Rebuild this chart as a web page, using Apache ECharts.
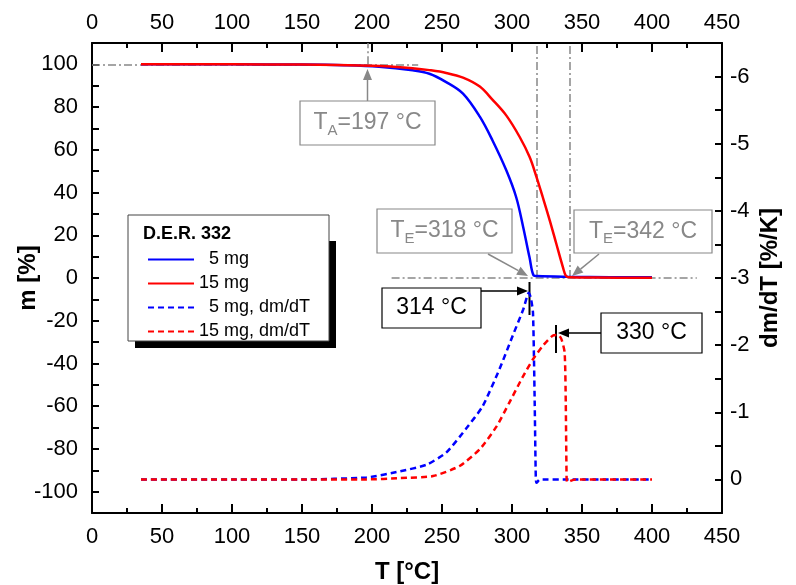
<!DOCTYPE html>
<html>
<head>
<meta charset="utf-8">
<script src="https://cdn.jsdelivr.net/npm/echarts@6/dist/echarts.min.js"></script>
<style>
html, body { margin: 0; padding: 0; background: #fff; }
#main { width: 796px; height: 585px; }
</style>
</head>
<body>
<div id="main"></div>
<script>
var FONT = "'Liberation Sans', Arial, sans-serif";

// mass curves, m [%]
var t5 = [35, 100, 150, 180, 205, 229, 241, 253, 265, 277, 286, 296, 303, 308, 312.5, 315.5, 318, 340, 370, 400];
var m5 = [100, 100, 99.9, 99.6, 98.9, 97.2, 95.6, 91.7, 86.3, 75.5, 64.5, 50.3, 37.8, 23.8, 9.7, 1.2, 0.9, 0.6, 0.4, 0.3];
var t15 = [35, 100, 150, 200, 215, 229, 241, 253, 265, 277, 286, 296, 305.5, 312.6, 317.4, 322, 327, 331.7, 336.4, 338.5, 341, 360, 400];
var m15 = [100, 100, 99.9, 99.4, 98.9, 98.2, 97.3, 96, 93.8, 89.6, 83.5, 76, 66, 56.6, 47.5, 37.8, 26.9, 15.9, 5, 1.0, 0.3, 0.2, 0.1];

// derivative curves, dm/dT [%/K]
var t5d = [35, 100, 150, 196, 220, 239, 253, 267, 279, 291, 300.5, 308, 312, 313.5, 315, 316.2, 317, 317.5, 320, 340, 400];
var d5 = [0, 0, 0, -0.03, -0.12, -0.22, -0.40, -0.75, -1.09, -1.64, -2.14, -2.53, -2.78, -2.7, -2.48, -1.15, -0.02, 0.05, 0, 0, 0];
var t15d = [35, 100, 150, 196, 220, 243.6, 262.6, 277, 289, 298, 308, 315, 322, 329, 333, 335.3, 337.6, 338.4, 339, 339.5, 345, 400];
var d15 = [0, 0, 0, 0, -0.02, -0.05, -0.2, -0.45, -0.79, -1.14, -1.54, -1.79, -1.99, -2.14, -2.15, -2.09, -1.89, -1.15, -0.02, 0.04, 0, 0];

var names = ['5 mg', '15 mg', '5 mg, dm/dT', '15 mg, dm/dT'];

// reference temperatures
var tA = 197, tE5 = 317.5, tE15 = 341;

function zip(a, b) {
  return a.map(function (v, i) { return [v, b[i]]; });
}

var GRAY = '#888';
var dashDot = { color: GRAY, width: 1.5, type: [8, 3, 2, 3] };
var nameStyle = { fontSize: 24, fontWeight: 'bold', color: '#000', fontFamily: FONT };

function xAxisCfg(pos) {
  return {
    type: 'value', position: pos, min: 0, max: 450, interval: 50,
    axisLine: { onZero: false, lineStyle: { color: '#000', width: 2 } },
    axisTick: { inside: true, length: 9, lineStyle: { color: '#000', width: 2 } },
    minorTick: { show: true, splitNumber: 2, length: 5, lineStyle: { color: '#000', width: 2 } },
    splitLine: { show: false },
    axisLabel: { color: '#000', fontSize: 22, fontFamily: FONT, margin: pos === 'bottom' ? 13 : 9 }
  };
}

function arrow(x1, y1, x2, y2, color, w) {
  var ang = Math.atan2(y2 - y1, x2 - x1);
  var L = 11, H = 4.5;
  var bx = x2 - L * Math.cos(ang), by = y2 - L * Math.sin(ang);
  var px = -Math.sin(ang) * H, py = Math.cos(ang) * H;
  return [
    { type: 'line', shape: { x1: x1, y1: y1, x2: bx, y2: by }, style: { stroke: color, lineWidth: w } },
    { type: 'polygon', shape: { points: [[x2, y2], [bx + px, by + py], [bx - px, by - py]] }, style: { fill: color } }
  ];
}

function box(x, y, w, h, color, rich) {
  return [
    { type: 'rect', shape: { x: x, y: y, width: w, height: h }, style: { fill: '#fff', stroke: color, lineWidth: 1.2 } },
    { type: 'text', x: x + w / 2, y: y + h / 2, style: { text: rich, align: 'center', verticalAlign: 'middle', rich: {
      n: { fontSize: 23, fontFamily: FONT, fill: color, lineHeight: 30 },
      s: { fontSize: 15, fontFamily: FONT, fill: color, lineHeight: 6, verticalAlign: 'bottom' }
    } } }
  ];
}

var graphics = [];
// legend frame with shadow
graphics.push({ type: 'rect', shape: { x: 135, y: 241, width: 201, height: 107 }, style: { fill: '#000' }, z: 1 });
graphics.push({ type: 'rect', shape: { x: 128, y: 215, width: 201, height: 126 }, style: { fill: '#fff', stroke: '#444', lineWidth: 1 }, z: 2 });
graphics.push({ type: 'text', x: 143, y: 234, z: 3, style: { text: 'D.E.R. 332', fontSize: 18, fontWeight: 'bold', fontFamily: FONT, fill: '#000', verticalAlign: 'middle' } });

// annotation boxes and arrows
graphics = graphics.concat(box(300, 101, 135, 44, GRAY, '{n|T}{s|A}{n|=197 °C}'));
graphics = graphics.concat(arrow(367.5, 101, 367.5, 69, GRAY, 1.5));
graphics = graphics.concat(box(377, 209, 135, 44, GRAY, '{n|T}{s|E}{n|=318 °C}'));
graphics = graphics.concat(arrow(488, 254, 528, 276, GRAY, 1.5));
graphics = graphics.concat(box(574, 210, 138, 43, GRAY, '{n|T}{s|E}{n|=342 °C}'));
graphics = graphics.concat(arrow(599, 254, 572, 276, GRAY, 1.5));
graphics = graphics.concat(box(382, 288, 99, 40, '#000', '{n|314 °C}'));
graphics = graphics.concat(arrow(481, 291, 528, 291, '#000', 1.5));
graphics.push({ type: 'line', shape: { x1: 529.5, y1: 282, x2: 529.5, y2: 315 }, style: { stroke: '#000', lineWidth: 2 } });
graphics = graphics.concat(box(601, 313, 101, 40, '#000', '{n|330 °C}'));
graphics = graphics.concat(arrow(601, 333, 558, 333, '#000', 1.5));
graphics.push({ type: 'line', shape: { x1: 556, y1: 325, x2: 556, y2: 353 }, style: { stroke: '#000', lineWidth: 2 } });

var option = {
  animation: false,
  backgroundColor: '#fff',
  textStyle: { fontFamily: FONT },
  grid: { left: 92, right: 74, top: 43, bottom: 72, outerBoundsMode: 'none', containLabel: false },
  legend: {
    data: names,
    orient: 'vertical',
    left: 142, top: 245,
    itemWidth: 46, itemHeight: 16, itemGap: 5,
    z: 5,
    itemStyle: { color: 'rgba(0,0,0,0)', borderWidth: 0, opacity: 0 },
    textStyle: { fontSize: 18, fontFamily: FONT, color: '#000', lineHeight: 19 },
    formatter: function (n) { return n.charAt(0) === '5' ? '  ' + n : n; }
  },
  xAxis: [
    Object.assign(xAxisCfg('bottom'), {
      name: 'T [°C]', nameLocation: 'middle', nameGap: 47, nameMoveOverlap: false,
      nameTextStyle: nameStyle
    }),
    xAxisCfg('top')
  ],
  yAxis: [
    {
      type: 'value', position: 'left', min: -110, max: 110, interval: 10,
      axisLine: { onZero: false, lineStyle: { color: '#000', width: 2 } },
      axisTick: { inside: true, length: 7, lineStyle: { color: '#000', width: 2 } },
      splitLine: { show: false },
      axisLabel: { color: '#000', fontSize: 22, fontFamily: FONT, margin: 14,
        formatter: function (v) { return v % 20 === 0 ? String(v) : ''; } },
      name: 'm [%]', nameLocation: 'middle', nameGap: 52, nameMoveOverlap: false,
      nameTextStyle: nameStyle
    },
    {
      type: 'value', position: 'right', min: -6.5, max: 0.5, interval: 0.5, inverse: true,
      axisLine: { onZero: false, lineStyle: { color: '#000', width: 2 } },
      axisTick: { inside: true, length: 7, lineStyle: { color: '#000', width: 2 } },
      splitLine: { show: false },
      axisLabel: { color: '#000', fontSize: 22, fontFamily: FONT, margin: 8,
        formatter: function (v) { return Number.isInteger(v) ? String(v) : ''; } },
      name: 'dm/dT [%/K]', nameLocation: 'middle', nameGap: 36, nameMoveOverlap: false,
      nameTextStyle: nameStyle
    }
  ],
  series: [
    {
      name: '5 mg', type: 'line', xAxisIndex: 0, yAxisIndex: 0, data: zip(t5, m5),
      symbol: 'none', smooth: 0.35, z: 3,
      lineStyle: { color: '#0000ff', width: 2.5 }, itemStyle: { color: '#0000ff' },
      markLine: {
        silent: true, symbol: 'none', label: { show: false }, lineStyle: dashDot, z: 1,
        data: [
          [{ coord: [0, 100] }, { coord: [233, 100] }],
          [{ coord: [tA, 100] }, { coord: [tA, 110] }],
          [{ coord: [tE5, 0] }, { coord: [tE5, 110] }],
          [{ coord: [tE15, 0] }, { coord: [tE15, 110] }],
          [{ coord: [214, 0] }, { coord: [432, 0] }]
        ]
      }
    },
    {
      name: '15 mg', type: 'line', xAxisIndex: 0, yAxisIndex: 0, data: zip(t15, m15),
      symbol: 'none', smooth: 0.35, z: 3,
      lineStyle: { color: '#ff0000', width: 2.5 }, itemStyle: { color: '#ff0000' }
    },
    {
      name: '5 mg, dm/dT', type: 'line', xAxisIndex: 0, yAxisIndex: 1, data: zip(t5d, d5),
      symbol: 'none', smooth: 0.2, z: 3,
      lineStyle: { color: '#0000ff', width: 2.5, type: [6, 4] }, itemStyle: { color: '#0000ff' }
    },
    {
      name: '15 mg, dm/dT', type: 'line', xAxisIndex: 0, yAxisIndex: 1, data: zip(t15d, d15),
      symbol: 'none', smooth: 0.2, z: 3,
      lineStyle: { color: '#ff0000', width: 2.5, type: [6, 4] }, itemStyle: { color: '#ff0000' }
    }
  ],
  graphic: { elements: graphics }
};

var chart = echarts.init(document.getElementById('main'), null, { renderer: 'canvas' });
chart.setOption(option);
</script>
</body>
</html>
